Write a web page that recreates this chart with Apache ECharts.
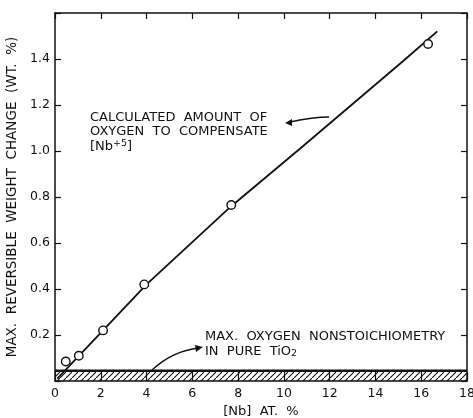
<!DOCTYPE html>
<html>
<head>
<meta charset="utf-8">
<script src="https://cdn.jsdelivr.net/npm/echarts@6/dist/echarts.min.js"></script>
<style>
  html, body { margin: 0; padding: 0; background: #fff; }
  #chart { width: 473px; height: 418px; }
</style>
</head>
<body>
<div id="chart"></div>
<script>
// measured points
const nbPct = [0.47, 1.04, 2.1, 3.9, 7.7, 16.3];
const weightChange = [0.085, 0.11, 0.22, 0.42, 0.765, 1.465];

// calculated curve
const calcNb = [0.1, 2.1, 4.0, 7.7, 10.7, 15.2, 16.7];
const calcWeight = [0.01, 0.22, 0.42, 0.76, 1.01, 1.39, 1.52];

// max nonstoichiometry in pure TiO2
const limitNb = [0, 18];
const limitWeight = [0.045, 0.045];

const xTicks = [0, 2, 4, 6, 8, 10, 12, 14, 16, 18];
const yTicks = [0.2, 0.4, 0.6, 0.8, 1.0, 1.2, 1.4];

const FONT = "DejaVu Sans";
const INK = "#111";

function hatchPattern() {
  const c = document.createElement("canvas");
  c.width = 6;
  c.height = 6;
  const ctx = c.getContext("2d");
  ctx.strokeStyle = INK;
  ctx.lineWidth = 1.1;
  ctx.beginPath();
  ctx.moveTo(-1, 7);
  ctx.lineTo(7, -1);
  ctx.stroke();
  return c;
}

const chart = echarts.init(document.getElementById("chart"), null, { renderer: "canvas" });

const axisText = { color: INK, fontFamily: FONT, fontSize: 12.5 };
const frameLine = { show: true, onZero: false, lineStyle: { color: INK, width: 1.5 } };

chart.setOption({
  animation: false,
  backgroundColor: "#fff",
  grid: { left: 55, right: 6, top: 13, bottom: 37, outerBoundsMode: "none", containLabel: false },
  xAxis: [
    {
      type: "value", min: 0, max: 18, interval: 2,
      name: "[Nb]  AT.  %", nameLocation: "middle", nameGap: 23,
      nameTextStyle: { ...axisText, fontSize: 13 },
      axisLine: frameLine,
      axisTick: { inside: true, length: 9, lineStyle: { color: INK, width: 1.2 } },
      axisLabel: { ...axisText, margin: 6, showMaxLabel: true,
        formatter: v => xTicks.includes(v) ? String(v) : "" },
      splitLine: { show: false }
    },
    {
      type: "value", min: 0, max: 18, interval: 2, position: "top",
      axisLine: frameLine,
      axisTick: { show: true, inside: true, length: 6, lineStyle: { color: INK, width: 1.2 } },
      axisLabel: { show: false },
      splitLine: { show: false }
    }
  ],
  yAxis: [
    {
      type: "value", min: 0, max: 1.6, interval: 0.2,
      name: "MAX.  REVERSIBLE  WEIGHT  CHANGE  (WT.  %)",
      nameLocation: "middle", nameGap: 35,
      nameTextStyle: { ...axisText, fontSize: 13.5 },
      axisLine: frameLine,
      axisTick: { show: true, inside: true, length: 6, lineStyle: { color: INK, width: 1.2 } },
      axisLabel: { ...axisText, margin: 5,
        formatter: v => yTicks.some(t => Math.abs(t - v) < 1e-6) ? v.toFixed(1) : "" },
      splitLine: { show: false }
    },
    {
      type: "value", min: 0, max: 1.6, interval: 0.2, position: "right",
      axisLine: frameLine,
      axisTick: { show: true, inside: true, length: 6, lineStyle: { color: INK, width: 1.2 } },
      axisLabel: { show: false },
      splitLine: { show: false }
    }
  ],
  series: [
    {
      name: "limit", type: "line", z: 1,
      data: limitNb.map((x, i) => [x, limitWeight[i]]),
      symbol: "none",
      lineStyle: { color: INK, width: 2.5 },
      areaStyle: { color: { image: hatchPattern(), repeat: "repeat" }, opacity: 1, origin: "start" }
    },
    {
      name: "calculated", type: "line", z: 2,
      data: calcNb.map((x, i) => [x, calcWeight[i]]),
      symbol: "none", smooth: false,
      lineStyle: { color: INK, width: 1.8 }
    },
    {
      name: "measured", type: "scatter", z: 3,
      data: nbPct.map((x, i) => [x, weightChange[i]]),
      symbol: "circle", symbolSize: 8.5,
      itemStyle: { color: "#fff", borderColor: INK, borderWidth: 1.4, opacity: 1 }
    }
  ],
  graphic: [
    {
      type: "text", left: 90, top: 110,
      style: {
        text: "CALCULATED  AMOUNT  OF\nOXYGEN  TO  COMPENSATE\n{b|[Nb}{s|+5}{b|]}",
        font: "13px " + FONT, fill: INK, lineHeight: 14.5,
        rich: {
          b: { font: "13px " + FONT, fill: INK },
          s: { font: "9.5px " + FONT, fill: INK, verticalAlign: "top", padding: [0, 0, 5, 0] }
        }
      }
    },
    {
      type: "bezierCurve",
      shape: { x1: 290, y1: 122, x2: 329, y2: 117, cpx1: 304, cpy1: 119, cpx2: 318, cpy2: 117 },
      style: { stroke: INK, lineWidth: 1.3, fill: "none" }
    },
    {
      type: "polygon",
      shape: { points: [[285, 123], [292, 119], [292, 126]] },
      style: { fill: INK }
    },
    {
      type: "text", left: 205, top: 329,
      style: {
        text: "MAX.  OXYGEN  NONSTOICHIOMETRY\nIN  PURE  {b|TiO}{u|2}",
        font: "13px " + FONT, fill: INK, lineHeight: 15,
        rich: {
          b: { font: "13px " + FONT, fill: INK },
          u: { font: "9.5px " + FONT, fill: INK, verticalAlign: "bottom", padding: [5, 0, 0, 0] }
        }
      }
    },
    {
      type: "bezierCurve",
      shape: { x1: 152, y1: 370, x2: 199, y2: 348, cpx1: 165, cpy1: 358, cpx2: 180, cpy2: 350 },
      style: { stroke: INK, lineWidth: 1.3, fill: "none" }
    },
    {
      type: "polygon",
      shape: { points: [[203, 347], [195, 345], [196, 352]] },
      style: { fill: INK }
    }
  ]
});
</script>
</body>
</html>
